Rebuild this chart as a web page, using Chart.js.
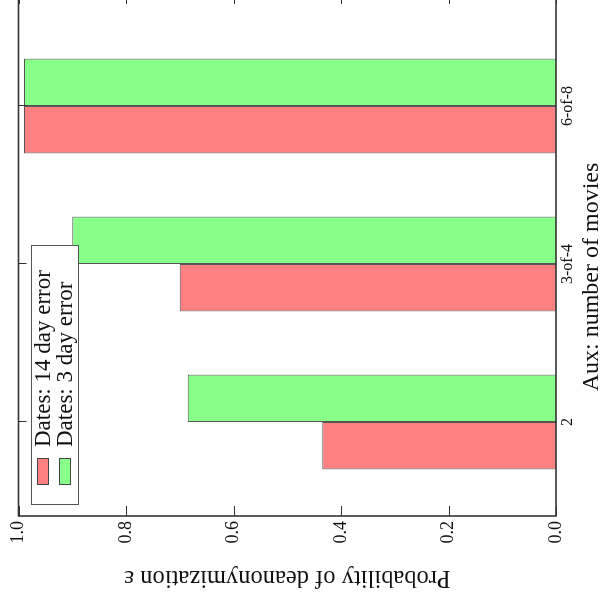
<!DOCTYPE html>
<html>
<head>
<meta charset="utf-8">
<script src="https://cdn.jsdelivr.net/npm/chart.js@4.4.1/dist/chart.umd.min.js"></script>
<style>
html,body{margin:0;padding:0;background:#fff;overflow:hidden}
#page{position:relative;width:607px;height:597px;overflow:hidden;background:#fff}
/* chart is drawn upright, then turned a quarter to the left like the scan */
#wrap{position:absolute;left:0;top:597px;width:613px;height:607px;transform-origin:0 0;transform:rotate(-90deg)}
</style>
</head>
<body>
<div id="page"><div id="wrap"><canvas id="chart" width="613" height="607"></canvas></div></div>
<script>

const categories = ["2", "3-of-4", "6-of-8"]
const dates14 = [0.435, 0.70, 0.99]
const dates3 = [0.685, 0.90, 0.99]
const seriesLabels = ["Dates: 14 day error", "Dates: 3 day error"]
const valueTicks = [0, 0.2, 0.4, 0.6, 0.8, 1.0]

const xTitle = "Aux: number of movies"
const yTitle = "Probability of deanonymization \u03b5"

const serif = "'Liberation Serif', 'DejaVu Serif', serif"

const toPoints = vals => vals.map((v,i) => ({x:i+1, y:v}))

const framePlugin = {
id:"frame",
afterDraw(chart){

const {ctx, chartArea:a, scales:{x,y}} = chart
ctx.save()

// frame
ctx.strokeStyle = "#333"
ctx.lineWidth = 1.6
ctx.strokeRect(a.left, a.top, a.right-a.left, a.bottom-a.top)

// inward ticks
ctx.lineWidth = 1
ctx.beginPath()
valueTicks.forEach(v => {
const py = Math.round(y.getPixelForValue(v)) + 0.5
ctx.moveTo(a.left, py); ctx.lineTo(a.left+10, py)
ctx.moveTo(a.right, py); ctx.lineTo(a.right-10, py)
})
categories.forEach((c,i) => {
const px = Math.round(x.getPixelForValue(i+1)) + 0.5
ctx.moveTo(px, a.top); ctx.lineTo(px, a.top+8)
})
ctx.stroke()

// legend
const lx = 92.5, ly = 31.5
ctx.fillStyle = "#fff"
ctx.fillRect(lx, ly, 259, 47)
ctx.strokeStyle = "#555"
ctx.strokeRect(lx, ly, 259, 47)
ctx.font = "23px " + serif
ctx.textBaseline = "middle"
ctx.textAlign = "left"
chart.data.datasets.forEach((ds,i) => {
const cy = 43 + i*22
ctx.fillStyle = ds.backgroundColor
ctx.fillRect(112, cy-6, 27, 12)
ctx.strokeStyle = "#444"
ctx.strokeRect(112.5, cy-5.5, 26, 11)
ctx.fillStyle = "#111"
ctx.fillText(ds.label, 150, cy+1)
})

// axis titles
ctx.fillStyle = "#111"
ctx.textAlign = "center"
ctx.font = "24px " + serif
ctx.fillText(xTitle, (a.left+a.right)/2 - 22, 592)

ctx.translate(20, (a.top+a.bottom)/2)
ctx.rotate(-Math.PI/2)
ctx.font = "24.5px " + serif
ctx.fillText(yTitle, 0, 0)

ctx.restore()
}
}

new Chart(document.getElementById("chart"),{
type:"bar",
data:{
datasets:[{
label:seriesLabels[0],
data:toPoints(dates14),
backgroundColor:"#FF8080",
borderColor:"#555",
borderWidth:1
},{
label:seriesLabels[1],
data:toPoints(dates3),
backgroundColor:"#88FF88",
borderColor:"#555",
borderWidth:1
}]
},
options:{
responsive:false,
animation:false,
devicePixelRatio:1,
categoryPercentage:0.6,
barPercentage:1.0,
layout:{ padding:{ top:18.5, right:10, left:0, bottom:0 } },
plugins:{
legend:{ display:false },
tooltip:{ enabled:false }
},
scales:{
x:{
type:"linear",
offset:false,
min:0.405,
max:3.709,
afterBuildTicks:scale => { scale.ticks = categories.map((c,i) => ({value:i+1})) },
afterFit:scale => { scale.height = 51 },
grid:{ display:false, drawTicks:false },
border:{ display:false },
ticks:{
callback:v => categories[v-1],
color:"#111",
padding:2,
maxRotation:0,
autoSkip:false,
font:{ family:serif, size:16 }
}
},
y:{
min:0,
max:1,
afterBuildTicks:scale => { scale.ticks = valueTicks.map(v => ({value:v})) },
afterFit:scale => { scale.width = 81 },
grid:{ display:false, drawTicks:false },
border:{ display:false },
ticks:{
callback:v => v.toFixed(1),
color:"#111",
padding:5,
font:{ family:serif, size:18 }
}
}
}
},
plugins:[framePlugin]
})

</script>
</body>
</html>
